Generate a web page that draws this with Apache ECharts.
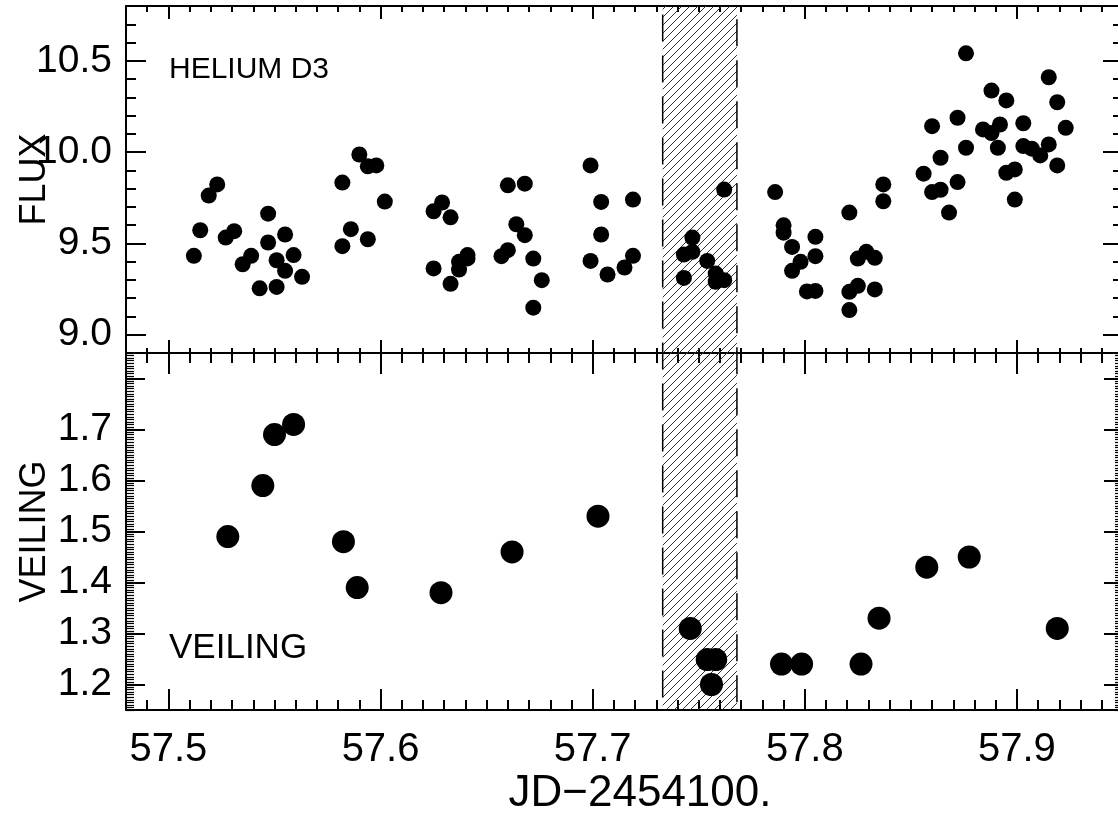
<!DOCTYPE html>
<html>
<head>
<meta charset="utf-8">
<script src="https://cdn.jsdelivr.net/npm/echarts@6/dist/echarts.min.js"></script>
<style>html,body{margin:0;padding:0;background:#fff;}#chart{width:1118px;height:823px;}</style>
</head>
<body>
<div id="chart"></div>
<script>
// ---- data ----
const fluxJD = [57.512,57.515,57.519,57.523,57.527,57.531,57.535,57.539,57.543,57.547,57.547,57.551,57.551,57.555,57.555,57.559,57.563,
  57.582,57.582,57.586,57.590,57.594,57.594,57.598,57.602,
  57.625,57.629,57.633,57.625,57.633,57.637,57.637,57.641,57.641,
  57.660,57.668,57.664,57.668,57.657,57.660,57.672,57.676,57.672,
  57.699,57.704,57.719,57.704,57.699,57.707,57.715,57.719,
  57.762,57.747,57.743,57.747,57.743,57.754,57.758,57.758,57.762,
  57.786,57.790,57.790,57.794,57.798,57.794,57.805,57.805,57.801,57.805,
  57.821,57.837,57.837,57.825,57.829,57.833,57.821,57.825,57.833,57.821,
  57.856,57.860,57.864,57.864,57.868,57.872,57.860,57.872,57.876,57.876,57.888,57.895,57.884,57.888,57.892,57.891,
  57.903,57.903,57.907,57.911,57.915,57.895,57.899,57.899,57.915,57.919,57.923,57.919];
const fluxVal = [9.432,9.572,9.762,9.823,9.532,9.567,9.386,9.432,9.254,9.663,9.505,9.408,9.262,9.549,9.350,9.436,9.317,
  9.833,9.485,9.578,9.987,9.523,9.922,9.927,9.729,
  9.676,9.724,9.643,9.363,9.279,9.399,9.357,9.436,9.418,
  9.818,9.827,9.605,9.545,9.430,9.463,9.417,9.299,9.148,
  9.927,9.727,9.740,9.549,9.404,9.330,9.368,9.432,
  9.795,9.532,9.439,9.454,9.311,9.404,9.335,9.290,9.299,
  9.781,9.599,9.559,9.481,9.399,9.350,9.536,9.430,9.237,9.240,
  9.669,9.823,9.731,9.417,9.454,9.421,9.235,9.268,9.248,9.135,
  9.882,9.781,9.794,9.969,9.669,9.836,10.142,10.188,10.024,10.541,10.337,10.283,10.124,10.104,10.151,10.024,
  10.158,10.033,10.019,9.982,10.042,9.887,9.905,9.740,10.410,10.273,10.133,9.927];
const veilJD = [57.528,57.5445,57.550,57.559,57.5825,57.589,57.6285,57.662,57.7025,57.746,57.754,57.758,57.756,57.789,57.7985,57.8265,57.835,57.8575,57.8775,57.919];
const veilVal = [1.490,1.590,1.690,1.710,1.480,1.390,1.380,1.460,1.530,1.310,1.249,1.249,1.200,1.240,1.240,1.240,1.330,1.430,1.450,1.310];
const hatchStart = 57.733, hatchEnd = 57.768;
const jdTicks = [57.5,57.6,57.7,57.8,57.9];
const fluxTicks = [9.0,9.5,10.0,10.5];
const veilTicks = [1.2,1.3,1.4,1.5,1.6,1.7,1.8];
const veilLabels = [1.2,1.3,1.4,1.5,1.6,1.7];
const xMin = 57.48, xMax = 57.95;
const fluxMin = 8.9, fluxMax = 10.8;
const veilMin = 1.15, veilMax = 1.85;

function range(a, b, s) { const r = []; const n = Math.round((b - a) / s); for (let i = 0; i <= n; i++) r.push(Math.round((a + i * s) * 10000) / 10000); return r; }
const jdMinor = range(57.48, 57.95, 0.01);
const fluxMinor = range(8.9, 10.8, 0.1);
const veilMinor = range(1.15, 1.85, 0.005);

const FONT = '"Liberation Sans", Arial, sans-serif';
const zip = (a, b) => a.map((v, i) => [v, b[i]]);

// hatch pattern
const T = 8;
const hc = document.createElement('canvas');
hc.width = T; hc.height = T;
const hx = hc.getContext('2d');
hx.strokeStyle = '#333'; hx.lineWidth = 1;
hx.beginPath();
hx.moveTo(-1, T + 1); hx.lineTo(T + 1, -1);
hx.moveTo(-1, 1); hx.lineTo(1, -1);
hx.moveTo(T - 1, T + 1); hx.lineTo(T + 1, T - 1);
hx.stroke();

function xAx(grid, pos, ticks, len, opts) {
  opts = opts || {};
  return {
    type: 'value', gridIndex: grid, position: pos, min: xMin, max: xMax,
    splitLine: { show: false },
    axisLine: { show: !!opts.line, onZero: false, lineStyle: { color: '#000', width: 2 } },
    axisTick: { show: true, inside: true, length: len, customValues: ticks, lineStyle: { color: '#000', width: opts.tw || 2 } },
    axisLabel: opts.labels ? { show: true, customValues: opts.labels, formatter: v => v.toFixed(1), color: '#000', fontSize: 40, fontFamily: FONT, margin: 20 } : { show: false }
  };
}
function yAx(grid, pos, min, max, ticks, len, opts) {
  opts = opts || {};
  const a = {
    type: 'value', gridIndex: grid, position: pos, min: min, max: max,
    splitLine: { show: false },
    axisLine: { show: !!opts.line, onZero: false, lineStyle: { color: '#000', width: 2 } },
    axisTick: { show: true, inside: true, length: len, customValues: ticks, lineStyle: { color: '#000', width: opts.tw || 2 } },
    axisLabel: opts.labels ? { show: true, customValues: opts.labels, formatter: v => v.toFixed(1), color: '#000', fontSize: 39, fontFamily: FONT, margin: 14 } : { show: false }
  };
  if (opts.name) {
    a.name = opts.name; a.nameLocation = 'middle'; a.nameGap = 73; a.nameMoveOverlap = false;
    a.nameTextStyle = { color: '#000', fontSize: 36, fontFamily: FONT };
  }
  return a;
}

const G = { left: 126, width: 997 };
const option = {
  backgroundColor: '#fff',
  animation: false,
  grid: [
    { left: G.left, width: G.width, top: 6, height: 347, outerBoundsMode: 'none', containLabel: false },
    { left: G.left, width: G.width, top: 353, height: 357, outerBoundsMode: 'none', containLabel: false },
    { left: G.left, width: G.width, top: 6, height: 704, outerBoundsMode: 'none', containLabel: false }
  ],
  xAxis: [
    xAx(0, 'bottom', jdTicks, 13, { line: true }),
    xAx(0, 'bottom', jdMinor, 5),
    xAx(0, 'top', jdTicks, 13, { line: true }),
    xAx(0, 'top', jdMinor, 6),
    xAx(1, 'bottom', jdTicks, 21, { line: true, labels: jdTicks }),
    xAx(1, 'bottom', jdMinor, 10),
    xAx(1, 'top', jdTicks, 21, { line: true }),
    xAx(1, 'top', jdMinor, 10),
    { type: 'value', gridIndex: 2, min: xMin, max: xMax, show: false }
  ],
  yAxis: [
    yAx(0, 'left', fluxMin, fluxMax, fluxTicks, 20, { line: true, labels: fluxTicks, name: 'FLUX' }),
    yAx(0, 'left', fluxMin, fluxMax, fluxMinor, 10),
    yAx(0, 'right', fluxMin, fluxMax, fluxTicks, 20, { line: true }),
    yAx(0, 'right', fluxMin, fluxMax, fluxMinor, 10),
    yAx(1, 'left', veilMin, veilMax, veilTicks, 19, { line: true, labels: veilLabels, name: 'VEILING' }),
    yAx(1, 'left', veilMin, veilMax, veilMinor, 8, { tw: 1.2 }),
    yAx(1, 'right', veilMin, veilMax, veilTicks, 19, { line: true }),
    yAx(1, 'right', veilMin, veilMax, veilMinor, 8, { tw: 1.2 }),
    { type: 'value', gridIndex: 2, min: 0, max: 1, show: false }
  ],
  graphic: [
    { type: 'text', x: 169, y: 70, z: 10, style: { text: 'HELIUM D3', font: '30px ' + FONT, fill: '#000', align: 'left', verticalAlign: 'middle' } },
    { type: 'text', x: 169, y: 648, z: 10, style: { text: 'VEILING', font: '35px ' + FONT, fill: '#000', align: 'left', verticalAlign: 'middle' } },
    { type: 'text', x: 640, y: 794, z: 10, style: { text: 'JD\u22122454100.', font: '44px ' + FONT, fill: '#000', align: 'center', verticalAlign: 'middle' } }
  ],
  series: [
    {
      type: 'line', xAxisIndex: 8, yAxisIndex: 8, data: [], z: 1, silent: true,
      markArea: {
        silent: true,
        label: { show: false },
        itemStyle: { color: { image: hc, repeat: 'repeat' }, borderColor: '#000', borderWidth: 1.5, borderType: [27, 14] },
        data: [[{ xAxis: hatchStart }, { xAxis: hatchEnd }]]
      }
    },
    {
      type: 'scatter', xAxisIndex: 0, yAxisIndex: 0, z: 5, symbol: 'circle', symbolSize: 16,
      itemStyle: { color: '#000', opacity: 1 }, data: zip(fluxJD, fluxVal)
    },
    {
      type: 'scatter', xAxisIndex: 4, yAxisIndex: 4, z: 5, symbol: 'circle', symbolSize: 23,
      itemStyle: { color: '#000', opacity: 1 }, data: zip(veilJD, veilVal)
    }
  ]
};
const chart = echarts.init(document.getElementById('chart'));
chart.setOption(option);
</script>
</body>
</html>
